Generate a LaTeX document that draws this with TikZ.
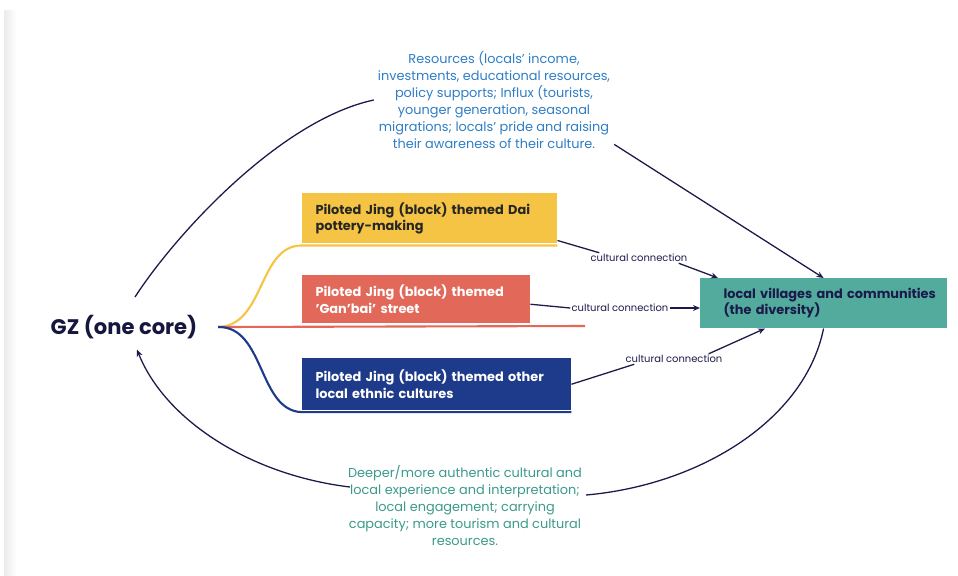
\documentclass[tikz,border=0pt]{standalone}
\usepackage{fontspec}
\setmainfont{Poppins}
\usetikzlibrary{arrows.meta,positioning}
\begin{document}
\begin{tikzpicture}[x = 0.03cm, y = -0.03cm,
  jing/.style = {anchor = north west, inner xsep = 0.4cm, inner ysep = 0pt, align = left, font = \fontsize{11}{14}\selectfont\bfseries},
  link/.style = {draw = navyline, line width = 1.1pt},
  tip/.style = {-{Stealth[length = 6pt, width = 5pt]}},
  conn/.style = {font = \fontsize{8.5}{10}\selectfont, text = navyline, inner sep = 1pt},
  branch/.style = {line width = 1.8pt}]
\definecolor{navyline}{HTML}{1B1A4A}
\definecolor{gzink}{HTML}{16163F}
\definecolor{jingyellow}{HTML}{F6C445}
\definecolor{jingred}{HTML}{E2695A}
\definecolor{jingblue}{HTML}{1E3A8A}
\definecolor{villteal}{HTML}{52AB9C}
\definecolor{resblue}{HTML}{2E7DC4}
\definecolor{deepteal}{HTML}{3A9A8A}
\useasboundingbox (0,0) rectangle (958,575);
\shade[left color = black!8, right color = white] (4,10) rectangle (16,575);
\node[font = \fontsize{18}{21}\selectfont\bfseries, text = gzink] (gz) at (124,327) {GZ (one core)};
\coordinate (hub) at ([xshift = 0.5cm]gz.east);
\node[jing, fill = jingyellow, text = black!85, minimum height = 1.5cm, text width = 6.85cm] (dai) at (302,193) {Piloted Jing (block) themed Dai\\pottery-making};
\node[jing, fill = jingred, text = white, minimum height = 1.44cm, text width = 6.04cm] (ganbai) at (302,275) {Piloted Jing (block) themed\\'Gan'bai' street};
\node[jing, fill = jingblue, text = white, minimum height = 1.56cm, text width = 7.27cm] (ethnic) at (302,358) {Piloted Jing (block) themed other\\local ethnic cultures};
\node[jing, fill = villteal, text = navyline, inner xsep = 0.2cm, minimum height = 1.5cm, text width = 7cm] (villages) at (700,278) {\hspace*{0.5cm}local villages and communities\\\hspace*{0.5cm}(the diversity)};
\node[align = center, text = resblue, font = \fontsize{11}{14.5}\selectfont] (res) at (494,100) {Resources (locals' income,\\investments, educational resources,\\policy supports; Influx (tourists,\\younger generation, seasonal\\migrations; locals' pride and raising\\their awareness of their culture.};
\node[align = center, text = deepteal, font = \fontsize{11}{14.5}\selectfont] (deep) at (465,505) {Deeper/more authentic cultural and\\local experience and interpretation;\\local engagement; carrying\\capacity; more tourism and cultural\\resources.};
\node[conn] (c1) at (639,258) {cultural connection};
\node[conn] (c2) at (620,308) {cultural connection};
\node[conn] (c3) at (674,359) {cultural connection};
\coordinate (redend) at (585,326);
\draw[branch, draw = jingyellow] (hub) .. controls (265,326) and (258,245) .. ([yshift = -0.06cm]dai.south west) -- ([yshift = -0.06cm]dai.south east);
\draw[branch, draw = jingred] (hub) -- (redend);
\draw[branch, draw = jingblue] (hub) .. controls (265,326) and (258,411) .. ([yshift = -0.05cm]ethnic.south west) -- ([yshift = -0.05cm]ethnic.south east);
\draw[link] ([yshift = 0.09cm]dai.south east) -- ([xshift = 0.3cm]c1.north west);
\draw[link, tip] ([xshift = -0.3cm]c1.south east) -- ([xshift = 0.54cm]villages.north west);
\draw[link] ([yshift = -0.15cm]ganbai.east) -- (c2.west);
\draw[link, tip] (c2.east) -- (c2.east -| villages.west);
\draw[link] (ethnic.east) -- ([xshift = 0.3cm]c3.south west);
\draw[link, tip] ([xshift = -0.45cm]c3.north east) -- ([xshift = 1.95cm]villages.south west);
\draw[link] ([shift = {(0.33cm,0.42cm)}]gz.north) .. controls (175,235) and (280,120) .. (res.west);
\draw[link, tip] ([yshift = 0.25cm]res.south east) -- (villages.north);
\draw[link] (villages.south) .. controls (805,420) and (700,485) .. ([yshift = 0.3cm]deep.east);
\draw[link, tip] ([shift = {(0.18cm,0.54cm)}]deep.west) .. controls (250,475) and (165,420) .. ([shift = {(0.39cm,-0.2cm)}]gz.south);
\end{tikzpicture}
\end{document}
